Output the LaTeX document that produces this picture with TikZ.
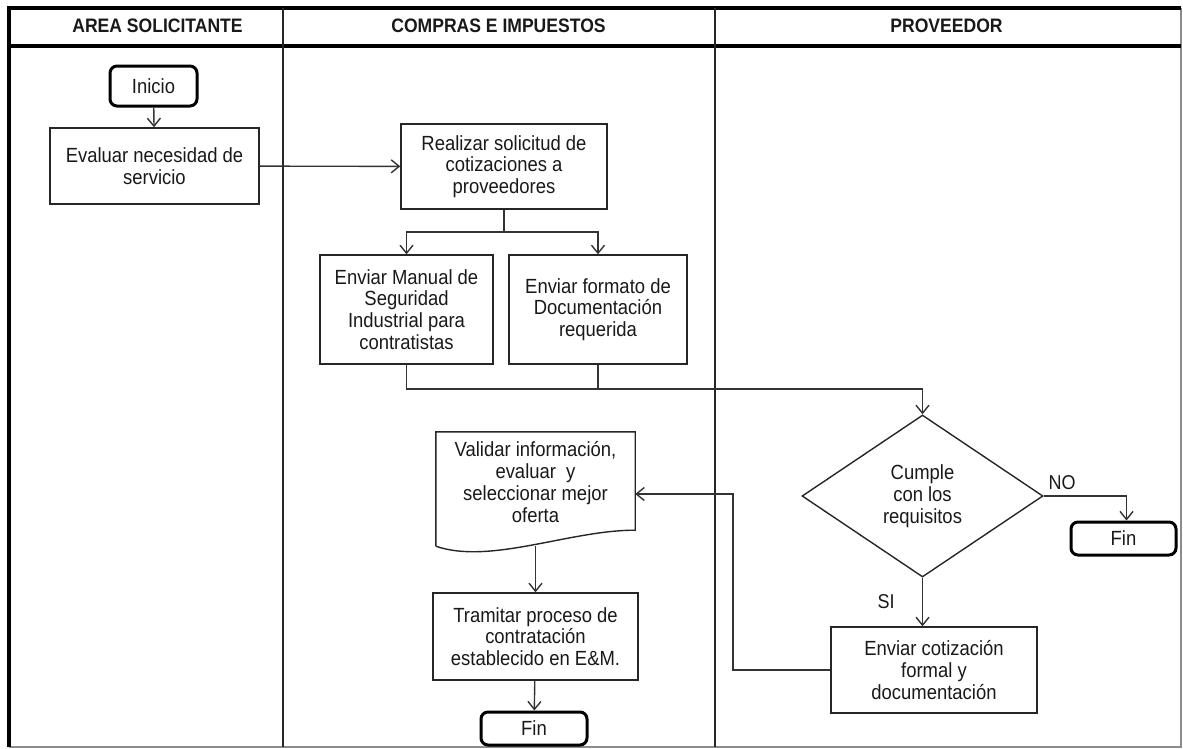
\documentclass[tikz,border=0pt]{standalone}
\usepackage{fontspec}
\setmainfont{Liberation Sans}[FakeStretch=0.9]
\usetikzlibrary{arrows.meta,shapes.geometric,calc}
\begin{document}
\begin{tikzpicture}[x=1pt,y=-1pt,
  every node/.style={font=\fontsize{20.5}{21.7}\selectfont, align=center, inner sep=0pt, text=black!90},
  lanehead/.style={font=\fontsize{19.5}{20}\selectfont\bfseries},
  proc/.style={draw=black!85, line width=1.4pt, rectangle},
  term/.style={draw=black, line width=3pt, rounded corners=7pt, rectangle},
  decision/.style={draw=black!85, line width=1.4pt, diamond, aspect=1.5},
  conn/.style={draw=black!80, line width=1.4pt},
  arr/.style={conn, -{Straight Barb[length=8pt,width=13pt,line width=1.4pt]}},
  lbl/.style={font=\fontsize{20}{20}\selectfont}
]
\useasboundingbox (0,0) rectangle (1183,748);
% frame
\draw[black!45, line width=1.5pt] (1181,8) -- (1181,747) -- (9,747);
\draw[black, line width=4pt] (9,747) -- (9,8) -- (1181,8);
\draw[black, line width=3.5pt] (9,46) -- (1181,46);
\draw[black!85, line width=1.5pt] (283,8) -- (283,747);
\draw[black!85, line width=1.5pt] (715,8) -- (715,747);
% headers
\node[lanehead] (h1) at (157.5,26) {AREA SOLICITANTE};
\node[lanehead] (h2) at (498.5,26) {COMPRAS E IMPUESTOS};
\node[lanehead] (h3) at (946.5,26) {PROVEEDOR};
% nodes
\node[term, minimum width=87pt, minimum height=40pt] (ini) at (153.5,86) {Inicio};
\node[proc, minimum width=209pt, minimum height=76pt] (eva) at (154.5,166) {Evaluar necesidad de\\servicio};
\node[proc, minimum width=206pt, minimum height=85pt] (rea) at (504,166.5) {Realizar solicitud de\\cotizaciones a\\proveedores};
\node[proc, minimum width=173pt, minimum height=109pt] (man) at (406.5,309.5) {Enviar Manual de\\Seguridad\\Industrial para\\contratistas};
\node[proc, minimum width=178pt, minimum height=109pt] (for) at (598,309.5) {Enviar formato de\\Documentación\\requerida};
\node[decision, minimum width=241pt, minimum height=162pt] (dia) at (922.5,496) {Cumple\\con los\\requisitos};
\node[term, minimum width=105pt, minimum height=33pt] (fin1) at (1123.5,538.5) {Fin};
\node[proc, minimum width=206pt, minimum height=86pt] (env) at (934,670) {Enviar cotización\\formal y\\documentación};
\node[minimum width=199pt, minimum height=114pt] (val) at (535.5,489) {};
\draw[black!85, line width=1.4pt] (val.south west) -- (val.north west) -- (val.north east) -- ([yshift=16pt]val.south east)
  .. controls (570,530) and (490,565) .. (val.south west);
\node (valt) at (535.5,482) {Validar información,\\evaluar\ \ y\\seleccionar mejor\\oferta};
\node[proc, minimum width=205pt, minimum height=87pt] (tra) at (535.5,636.5) {Tramitar proceso de\\contratación\\establecido en E\&M.};
\node[term, minimum width=106pt, minimum height=33pt] (fin2) at (534,728.5) {Fin};
\node[lbl] (no) at (1062,483) {NO};
\node[lbl] (si) at (886,602) {SI};
% connectors
\draw[arr] (ini) -- (eva);
\draw[arr] (eva) -- (rea);
\coordinate (s) at (504,232);
\draw[conn] (rea.south) -- (s);
\draw[arr] (s) -| (man.north);
\draw[arr] (s) -| (for.north);
\coordinate (j) at (922.5,389);
\draw[conn] (man.south) |- (j);
\draw[conn] (for.south) -- (for.south |- j);
\draw[arr] (j) -- (dia.north);
\draw[arr] (dia.east) -| ([xshift=3pt]fin1.north);
\draw[arr] (dia.south) -- (dia.south |- env.north);
\draw[arr] (env.west) -- (733,670) |- ([yshift=-5pt]val.east);
\draw[arr] (val.south) -- (tra.north);
\draw[arr] (tra) -- (fin2);
\end{tikzpicture}
\end{document}
